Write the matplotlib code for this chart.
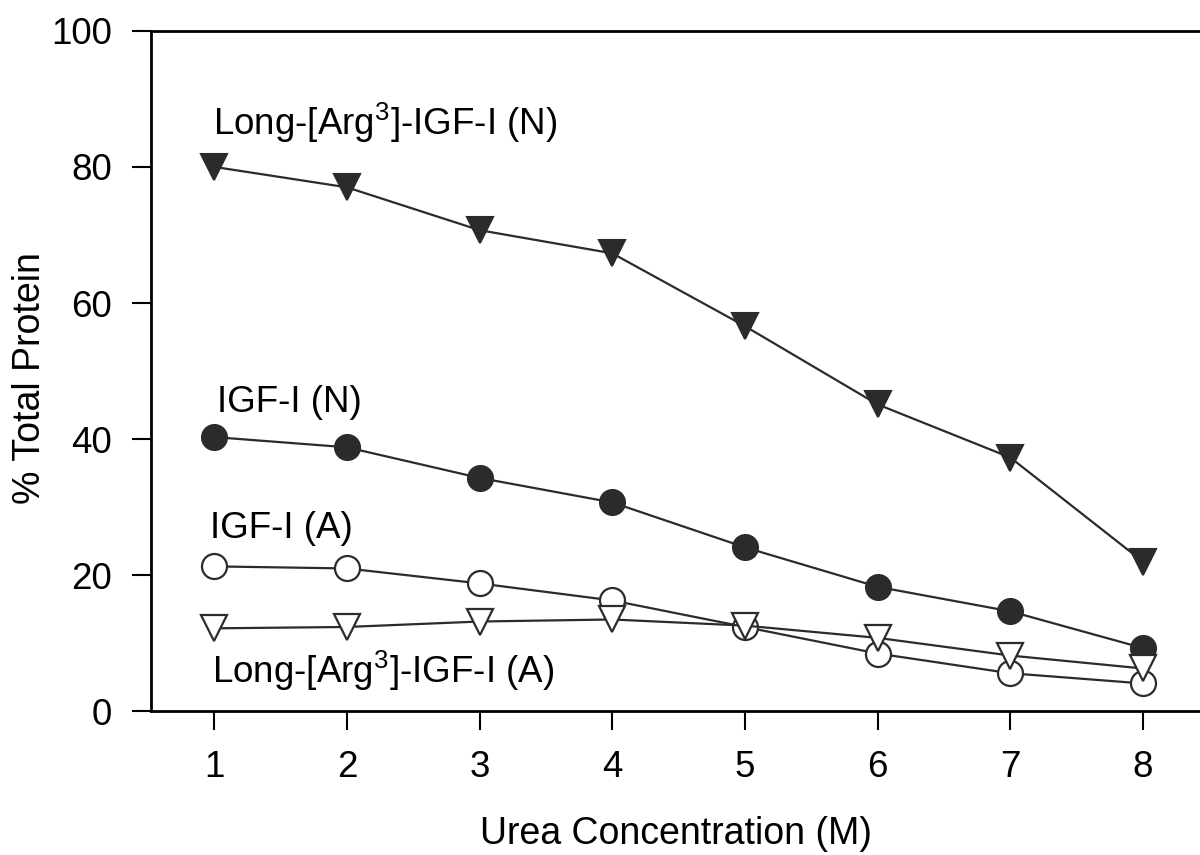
import matplotlib
matplotlib.use('Agg')
import matplotlib.pyplot as plt

plt.rcParams['font.family'] = ['Liberation Sans', 'DejaVu Sans']

# urea concentration (M)
urea = [1, 2, 3, 4, 5, 6, 7, 8]

# % total protein
long_n = [80.0, 77.0, 70.7, 67.3, 56.6, 45.1, 37.3, 22.0]
igf_n = [40.3, 38.8, 34.3, 30.7, 24.1, 18.3, 14.7, 9.3]
igf_a = [21.3, 21.0, 18.8, 16.3, 12.4, 8.5, 5.6, 4.1]
long_a = [12.2, 12.4, 13.2, 13.5, 12.6, 10.8, 8.2, 6.3]

yticks = [0, 20, 40, 60, 80, 100]

dark = '#2b2b2b'

fig = plt.figure(figsize=(12, 8.55), dpi=100)
ax = fig.add_axes([0.126, 0.168, 0.874, 0.796])

ax.plot(urea, long_n, color=dark, lw=1.6, marker='v', ms=19,
        mfc=dark, mec=dark, mew=1.5, zorder=3)
ax.plot(urea, igf_n, color=dark, lw=1.6, marker='o', ms=18,
        mfc=dark, mec=dark, mew=1.5, zorder=3)
ax.plot(urea, igf_a, color=dark, lw=1.6, marker='o', ms=18,
        mfc='white', mec=dark, mew=1.6, zorder=3)
ax.plot(urea, long_a, color=dark, lw=1.6, marker='v', ms=19,
        mfc='white', mec=dark, mew=1.6, zorder=4)

fs = 26.5
ax.text(0.99, 84.7, r'Long-[Arg$^{\mathregular{3}}$]-IGF-I (N)', fontsize=fs, va='baseline')
ax.text(1.02, 44.0, 'IGF-I (N)', fontsize=fs, va='baseline')
ax.text(0.97, 25.4, 'IGF-I (A)', fontsize=fs, va='baseline')
ax.text(0.98, 4.1, r'Long-[Arg$^{\mathregular{3}}$]-IGF-I (A)', fontsize=fs, va='baseline')

ax.set_xlim(0.525, 8.43)
ax.set_ylim(0, 100)
ax.set_xticks(urea)
ax.set_yticks(yticks)
ax.tick_params(direction='out', length=14, width=1.5, labelsize=fs, pad=14, colors='black')

for s in ['left', 'bottom', 'top']:
    ax.spines[s].set_linewidth(2)
ax.spines['right'].set_visible(False)

ax.set_xlabel('Urea Concentration (M)', fontsize=27, labelpad=22)
ax.set_ylabel('% Total Protein', fontsize=27)
ax.yaxis.label.set_va('center')
ax.yaxis.set_label_coords(-0.116, 0.49)

fig.savefig('out.png', dpi=100)
